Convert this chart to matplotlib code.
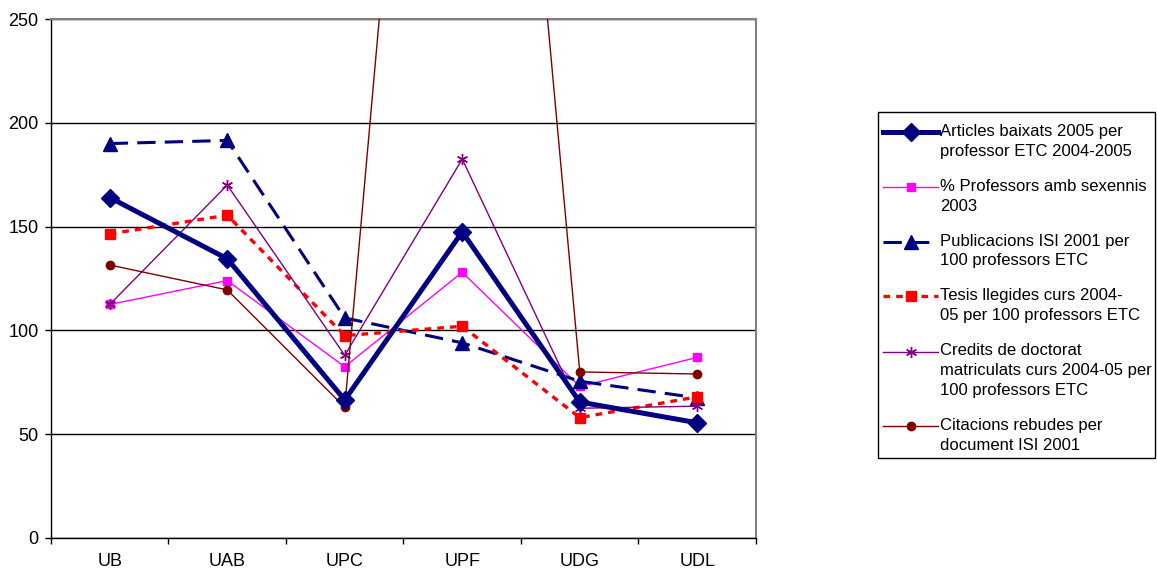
import matplotlib
matplotlib.use("Agg")
import matplotlib.pyplot as plt
from matplotlib.legend_handler import HandlerLine2D
from matplotlib.patches import Rectangle

plt.rcParams['font.family'] = ['Liberation Sans', 'DejaVu Sans']

universitats = ["UB", "UAB", "UPC", "UPF", "UDG", "UDL"]

articles = [164, 134.5, 66.5, 147.5, 65.5, 55.5]
professors_sexennis = [112.5, 124, 82.5, 128, 73, 87]
publicacions_isi = [190, 191.5, 106, 94, 75.5, 67.5]
tesis = [146.5, 155.5, 97.5, 102, 58, 68]
credits_doctorat = [112.5, 170, 88, 182.5, 62.5, 63.5]
citacions = [131.5, 119.5, 63, 700, 80, 79]

labels = [
    "Articles baixats 2005 per\nprofessor ETC 2004-2005",
    "% Professors amb sexennis\n2003",
    "Publicacions ISI 2001 per\n100 professors ETC",
    "Tesis llegides curs 2004-\n05 per 100 professors ETC",
    "Credits de doctorat\nmatriculats curs 2004-05 per\n100 professors ETC",
    "Citacions rebudes per\ndocument ISI 2001",
]

FS = 13
LEG_FS = 12
LINESP = 1.4
W, H = 1157, 570


class FirstLineHandler(HandlerLine2D):
    # put the legend handle next to the first line of a multi-line label
    def __init__(self, nlines, **kw):
        super().__init__(**kw)
        self.nlines = nlines

    def create_artists(self, legend, orig_handle, xdescent, ydescent, width, height,
                       fontsize, trans):
        arts = super().create_artists(legend, orig_handle, xdescent, ydescent, width,
                                      height, fontsize, trans)
        dy = (self.nlines - 1) * fontsize * LINESP * 0.82 / 2
        for a in arts:
            a.set_ydata([y + dy for y in a.get_ydata()])
        return arts


fig = plt.figure(figsize=(W / 100, H / 100), dpi=100)
ax = fig.add_axes([51 / W, 32 / H, 705 / W, 519 / H])

x = list(range(len(universitats)))

lines = []
lines += ax.plot(x, articles, color="#000080", lw=3.6, marker="D", ms=9, label=labels[0], zorder=5)
lines += ax.plot(x, professors_sexennis, color="#FF00FF", lw=1, marker="s", ms=6,
                 label=labels[1], zorder=4)
lines += ax.plot(x, publicacions_isi, color="#000080", lw=2.2, ls=(0, (6, 3)), marker="^", ms=10,
                 label=labels[2], zorder=4)
lines += ax.plot(x, tesis, color="#FF0000", lw=2.4, ls=(0, (2, 1.8)), marker="s", ms=7,
                 label=labels[3], zorder=4)
lines += ax.plot(x, credits_doctorat, color="#800080", lw=1, marker=(6, 2, 0), ms=8, mew=1,
                 label=labels[4], zorder=4)
lines += ax.plot(x, citacions, color="#800000", lw=1, marker="o", ms=6, label=labels[5], zorder=4)

ax.set_xlim(-0.5, len(universitats) - 0.5)
ax.set_ylim(0, 250)
ax.set_yticks([0, 50, 100, 150, 200, 250])
ax.set_xticks(x)
ax.set_xticklabels(universitats)
ax.set_xticks([i - 0.5 for i in range(len(universitats) + 1)], minor=True)
ax.tick_params(axis="x", which="major", length=0, pad=11, labelsize=FS)
ax.tick_params(axis="x", which="minor", length=4, width=1, direction="out")
ax.tick_params(axis="y", length=4, width=1, direction="out", labelsize=FS, pad=5)

ax.yaxis.grid(True, color="black", lw=1)
ax.set_axisbelow(True)
for side in ("top", "right"):
    ax.spines[side].set_color("#808080")
    ax.spines[side].set_linewidth(1.5)
for side in ("left", "bottom"):
    ax.spines[side].set_color("black")
    ax.spines[side].set_linewidth(1)

# legend box drawn separately so the entries can sit a bit lower inside it
fig.patches.append(Rectangle((878 / W, 1 - 458 / H), 277 / W, 346 / H,
                             transform=fig.transFigure, fill=False,
                             edgecolor="black", lw=1))

hmap = {ln: FirstLineHandler(lab.count("\n") + 1) for ln, lab in zip(lines, labels)}
leg = fig.legend(handles=lines, loc="upper left", bbox_to_anchor=(878 / W, 1 - 119 / H),
                 frameon=False, fontsize=LEG_FS,
                 handlelength=3.3, handletextpad=0.15, labelspacing=1.2,
                 borderpad=0.3, borderaxespad=0, handler_map=hmap)
for t in leg.get_texts():
    t.set_linespacing(LINESP)

fig.savefig("out.png", dpi=100)
